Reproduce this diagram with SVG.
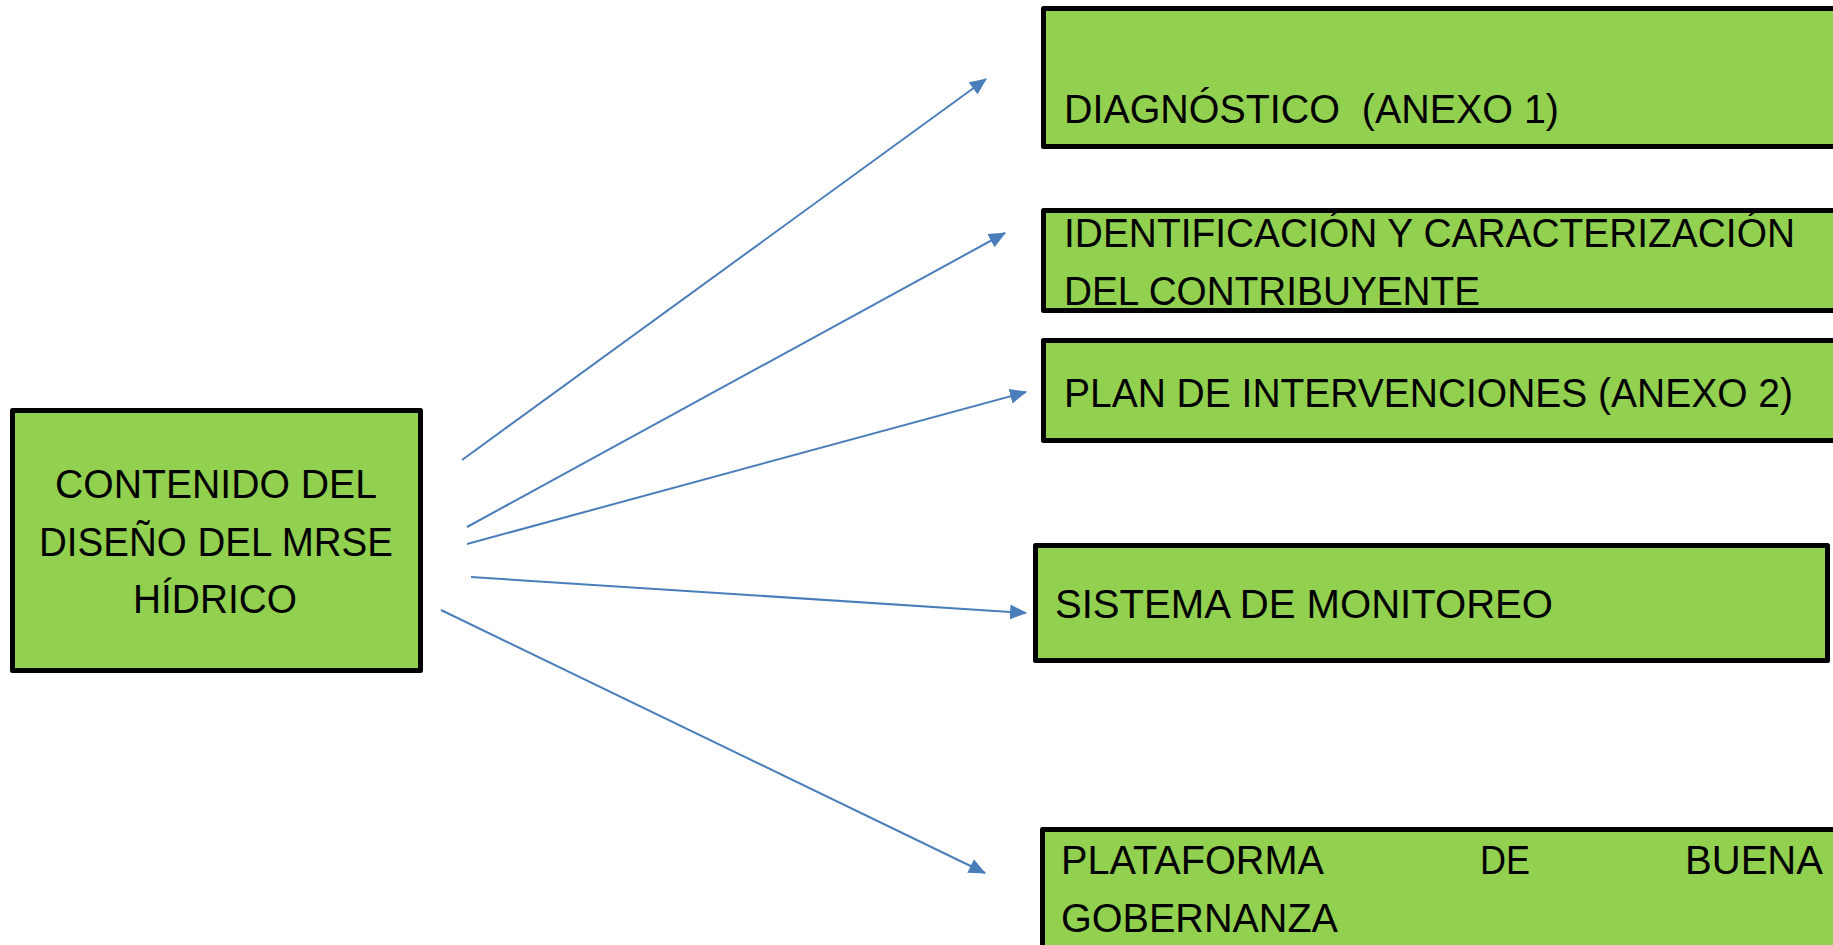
<svg xmlns="http://www.w3.org/2000/svg" width="1833" height="945" viewBox="0 0 1833 945">
<style>
.box{fill:#92d050;stroke:none}
.frame{fill:none;stroke:#000;stroke-width:5;stroke-linejoin:round}
.t{font-family:"Liberation Sans",Arial,sans-serif;font-size:40px;fill:#000}
.c{text-anchor:middle}
.conn line{stroke:#4a7ebb;stroke-width:2;marker-end:url(#ah)}
</style>
<defs>
<marker id="ah" markerUnits="userSpaceOnUse" markerWidth="17" markerHeight="15" refX="16" refY="7.5" orient="auto">
<path d="M0,0 L17,7.5 L0,15 z" fill="#4a7ebb"/>
</marker>
<clipPath id="clip2"><rect x="1043.5" y="212" width="800" height="97"/></clipPath>
</defs>
<rect width="1833" height="945" fill="#fff"/>
<g id="n0">
<rect class="box" x="12.5" y="410.5" width="408" height="260"/>
<text class="t c" x="216" y="498" textLength="322" lengthAdjust="spacingAndGlyphs">CONTENIDO DEL</text>
<text class="t c" x="216" y="556" textLength="354" lengthAdjust="spacingAndGlyphs">DISEÑO DEL MRSE</text>
<text class="t c" x="215" y="613" textLength="164" lengthAdjust="spacingAndGlyphs">HÍDRICO</text>
<rect class="frame" x="12.5" y="410.5" width="408" height="260"/>
</g>
<g id="n1">
<rect class="box" x="1043.5" y="8.5" width="800" height="138"/>
<text class="t" x="1064" y="123" textLength="495" lengthAdjust="spacingAndGlyphs" xml:space="preserve">DIAGNÓSTICO  (ANEXO 1)</text>
<rect class="frame" x="1043.5" y="8.5" width="800" height="138"/>
</g>
<g id="n2">
<rect class="box" x="1043.5" y="210.5" width="800" height="100"/>
<g clip-path="url(#clip2)">
<text class="t" x="1064" y="247" textLength="731" lengthAdjust="spacingAndGlyphs">IDENTIFICACIÓN Y CARACTERIZACIÓN</text>
<text class="t" x="1064" y="305" textLength="416" lengthAdjust="spacingAndGlyphs">DEL CONTRIBUYENTE</text>
</g>
<rect class="frame" x="1043.5" y="210.5" width="800" height="100"/>
</g>
<g id="n3">
<rect class="box" x="1043.5" y="340.5" width="800" height="100"/>
<text class="t" x="1064" y="407" textLength="729" lengthAdjust="spacingAndGlyphs">PLAN DE INTERVENCIONES (ANEXO 2)</text>
<rect class="frame" x="1043.5" y="340.5" width="800" height="100"/>
</g>
<g id="n4">
<rect class="box" x="1035.5" y="545.5" width="792" height="115"/>
<text class="t" x="1055" y="618" textLength="498" lengthAdjust="spacingAndGlyphs">SISTEMA DE MONITOREO</text>
<rect class="frame" x="1035.5" y="545.5" width="792" height="115"/>
</g>
<g id="n5">
<rect class="box" x="1042.5" y="829.5" width="800" height="130"/>
<text class="t" x="1061" y="874" textLength="263" lengthAdjust="spacingAndGlyphs">PLATAFORMA</text>
<text class="t" x="1480" y="874" textLength="50" lengthAdjust="spacingAndGlyphs">DE</text>
<text class="t" x="1685" y="874" textLength="138" lengthAdjust="spacingAndGlyphs">BUENA</text>
<text class="t" x="1061" y="932" textLength="277" lengthAdjust="spacingAndGlyphs">GOBERNANZA</text>
<rect class="frame" x="1042.5" y="829.5" width="800" height="130"/>
</g>
<g id="connectors" class="conn">
<line x1="462" y1="460" x2="986" y2="79"/>
<line x1="467" y1="527" x2="1005" y2="233"/>
<line x1="467" y1="544" x2="1026" y2="392"/>
<line x1="471" y1="577" x2="1026" y2="613"/>
<line x1="441" y1="610" x2="985" y2="873"/>
</g>
</svg>
